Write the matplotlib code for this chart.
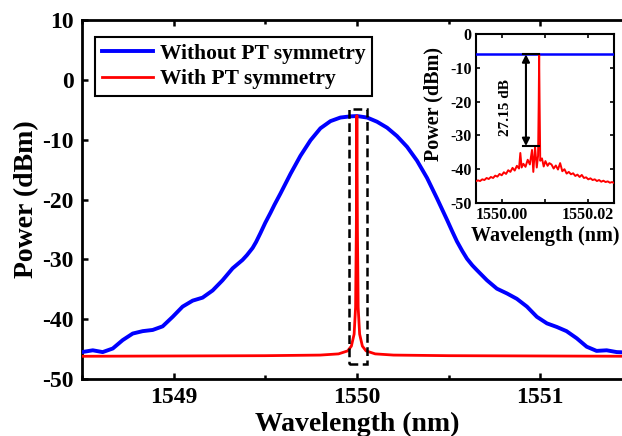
import matplotlib
matplotlib.use("Agg")
import matplotlib.pyplot as plt
from matplotlib.patches import Rectangle
from matplotlib.ticker import MultipleLocator, FormatStrFormatter

plt.rcParams['font.family'] = ['Liberation Serif', 'DejaVu Serif']
plt.rcParams['font.weight'] = 'bold'
plt.rcParams['axes.unicode_minus'] = False

# ---------------- data ----------------
# Without PT symmetry (broad spectrum), wavelength in nm, power in dBm
blue_wl = [1548.50, 1548.559, 1548.613, 1548.668, 1548.722, 1548.777, 1548.831, 1548.886,
           1548.940, 1548.995, 1549.049, 1549.104, 1549.158, 1549.213, 1549.267, 1549.322,
           1549.376, 1549.40, 1549.431, 1549.45, 1549.474, 1549.50, 1549.529, 1549.55,
           1549.583, 1549.638, 1549.692, 1549.747,
           1549.801, 1549.856, 1549.910, 1549.965, 1550.001, 1550.056, 1550.110, 1550.165,
           1550.219, 1550.274, 1550.328, 1550.383, 1550.437, 1550.492, 1550.52, 1550.546,
           1550.575, 1550.601, 1550.63,
           1550.655, 1550.710, 1550.764, 1550.819, 1550.873, 1550.928, 1550.982, 1551.037,
           1551.091, 1551.144, 1551.200, 1551.254, 1551.308, 1551.363, 1551.418, 1551.50]
blue_db = [-45.5, -45.2, -45.5, -44.9, -43.5, -42.4, -42.0, -41.8,
           -41.2, -39.6, -37.9, -36.9, -36.4, -35.2, -33.5, -31.5,
           -30.1, -29.3, -28.1, -27.1, -25.6, -23.9, -22.2, -20.9,
           -19.0, -15.7, -12.7, -10.1,
           -8.1, -6.9, -6.3, -6.1, -6.05, -6.3, -7.0, -8.0,
           -9.4, -11.2, -13.5, -16.4, -19.8, -23.4, -25.3, -27.0,
           -28.6, -29.9, -31.0,
           -31.8, -33.5, -34.9, -35.7, -36.6, -37.9, -39.6, -40.7,
           -41.3, -42.0, -43.2, -44.6, -45.3, -45.2, -45.5, -45.6]

# With PT symmetry (single-mode), main panel
red_wl = [1548.50, 1549.50, 1549.80, 1549.90, 1549.95, 1549.97, 1549.985, 1549.993,
          1549.997, 1550.000, 1550.003, 1550.007, 1550.015, 1550.030, 1550.050,
          1550.10, 1550.20, 1550.50, 1551.50]
red_db = [-46.2, -46.1, -46.0, -45.8, -45.3, -44.5, -42.5, -38.0,
          -25.0, -6.0, -25.0, -38.0, -42.5, -44.5, -45.3,
          -45.8, -46.0, -46.1, -46.2]

# Inset: offset from 1550 nm in pm, power in dBm
inset_red_pm = [-6.0, -5.5, -5.0, -4.5, -4.0, -3.5, -3.0, -2.5, -2.0, -1.5, -1.0, -0.5,
                0.0, 0.5, 1.0, 1.5, 2.0, 2.5, 3.0, 3.5, 4.0, 4.3, 4.6, 5.0, 5.5, 6.0,
                6.5, 7.0, 7.3, 7.7, 8.1, 8.4, 8.55, 8.65, 8.75, 8.9, 9.3, 9.7, 10.1,
                10.6, 11.0, 11.5, 12.0, 12.5, 13.0, 13.5, 14.0, 14.5, 15.0, 15.5, 16.0,
                16.5, 17.0, 17.5, 18.0, 18.5, 19.0, 19.5, 20.0, 20.5, 21.0, 21.5, 22.0,
                22.5, 23.0, 23.5, 24.0, 24.5, 25.0, 25.5, 26.0]
inset_red_db = [-43.6, -43.3, -43.5, -43.0, -43.2, -42.6, -42.9, -42.3, -42.6, -41.9, -42.2, -41.4,
                -41.8, -40.9, -41.4, -40.3, -40.8, -39.6, -40.4, -39.0, -39.8, -35.2, -39.5, -38.4, -39.3, -37.2,
                -38.6, -34.3, -40.8, -33.4, -39.5, -36.0, -20.0, -6.0, -20.0, -37.5, -36.8, -39.2, -37.6,
                -39.0, -38.2, -38.6, -39.8, -38.9, -40.1, -38.2, -40.6, -40.0, -41.3, -40.8, -41.5,
                -41.2, -42.0, -41.6, -42.3, -41.7, -42.6, -42.4, -43.0, -42.7, -43.2, -43.0, -43.5,
                -43.2, -43.7, -43.4, -43.8, -43.6, -44.0, -43.8, -44.1]
inset_blue_pm = [-7.0, 27.0]
inset_blue_db = [-6.0, -6.0]

peak_db = -6.0
suppression_db = 27.15
x_ticks_main = [1549, 1550, 1551]
inset_xticks = [1550.00, 1550.02]

# ---------------- figure ----------------
fig = plt.figure(figsize=(6.22, 4.36), dpi=100)
ax = fig.add_axes([0.1318, 0.1307, 0.8839, 0.8234])

ax.plot(blue_wl, blue_db, color='#0000ff', lw=2.8, label='Without PT symmetry', zorder=3,
        solid_joinstyle='round')
ax.plot(red_wl, red_db, color='#ff0000', lw=2.0, label='With PT symmetry', zorder=4)

rect = Rectangle((1549.955, -47.5), 0.10, 42.6, fill=False, ec='black', lw=1.8,
                 ls=(0, (3.5, 1.8)), zorder=5)
ax.add_patch(rect)

ax.set_xlim(1548.5, 1551.5)
ax.set_ylim(-50, 10)
ax.set_xticks(x_ticks_main)
ax.xaxis.set_minor_locator(MultipleLocator(0.5))
ax.yaxis.set_major_locator(MultipleLocator(10))
ax.tick_params(which='both', direction='in', top=True, right=False, width=1.8,
               labelsize=17, pad=6)
ax.tick_params(which='major', length=4.5)
ax.tick_params(which='minor', length=3)
for s in ax.spines.values():
    s.set_linewidth(2.0)
ax.set_xlabel('Wavelength (nm)', fontsize=20, fontweight='bold', labelpad=2.5)
ax.set_ylabel('Power (dBm)', fontsize=20, fontweight='bold', labelpad=2)

leg = ax.legend(loc='upper left', bbox_to_anchor=(0.024, 0.952), fontsize=15.5,
                frameon=True, fancybox=False, edgecolor='black', framealpha=1,
                handlelength=2.4, handletextpad=0.3, borderpad=0.3,
                labelspacing=0.25, borderaxespad=0)
leg.get_frame().set_linewidth(1.5)

# ---------------- inset ----------------
ax2 = fig.add_axes([0.7653, 0.5344, 0.2218, 0.3876])
inset_red_x = [1550 + v / 1000 for v in inset_red_pm]
inset_blue_x = [1550 + v / 1000 for v in inset_blue_pm]
ax2.plot(inset_blue_x, inset_blue_db, color='#0000ff', lw=1.8, zorder=3)
ax2.plot(inset_red_x, inset_red_db, color='#ff0000', lw=1.4, zorder=4)
ax2.set_xlim(1549.99406, 1550.02594)
ax2.set_ylim(-50, 0)
ax2.set_xticks(inset_xticks)
ax2.xaxis.set_minor_locator(MultipleLocator(0.01))
ax2.xaxis.set_major_formatter(FormatStrFormatter('%.2f'))
ax2.yaxis.set_major_locator(MultipleLocator(10))
ax2.tick_params(which='both', direction='in', top=True, right=True, width=1.2,
                labelsize=11.5, pad=3, length=3)
for s in ax2.spines.values():
    s.set_linewidth(1.5)
ax2.set_xlabel('Wavelength (nm)', fontsize=14.5, fontweight='bold', labelpad=2)
ax2.set_ylabel('Power (dBm)', fontsize=14.5, fontweight='bold')
ax2.yaxis.set_label_coords(-0.235, 0.585)

# annotation of suppression ratio
x_ann = 1550 + 5.6 / 1000
x_line0 = 1550 + 4.9 / 1000
x_peak = 1550 + 8.65 / 1000
low = peak_db - suppression_db
ax2.plot([x_line0, x_peak], [peak_db, peak_db], color='black', lw=1.5, zorder=5)
ax2.plot([x_line0, x_peak], [low, low], color='black', lw=1.5, zorder=5)
ax2.annotate('', xy=(x_ann, peak_db), xytext=(x_ann, low),
             arrowprops=dict(arrowstyle='<|-|>', color='black', lw=1.5,
                             mutation_scale=11, shrinkA=0, shrinkB=0), zorder=6)
ax2.text(1550 + 0.9 / 1000, -21.9, f'{suppression_db:.2f} dB',
         rotation=90, ha='center', va='center', fontsize=11, fontweight='bold')

fig.savefig('out.png', dpi=100)
